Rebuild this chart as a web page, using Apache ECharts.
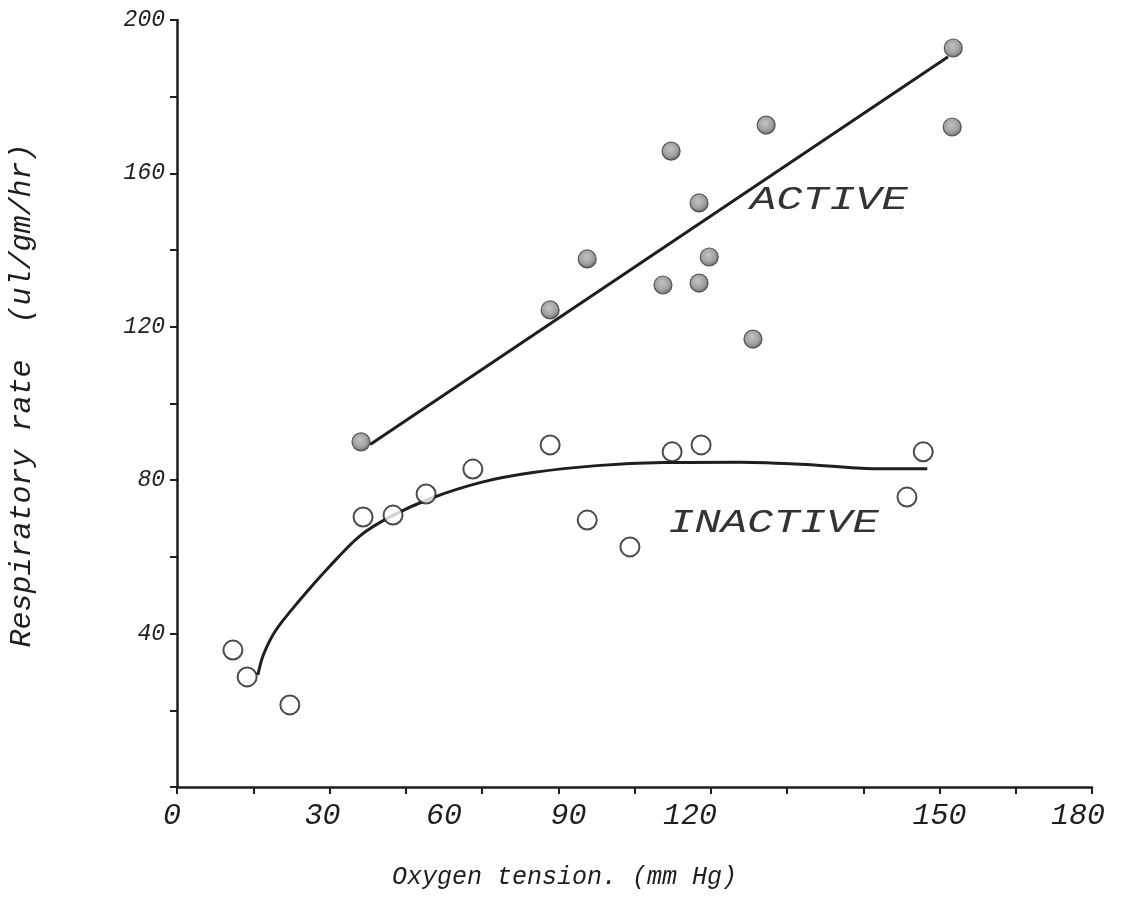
<!DOCTYPE html>
<html>
<head>
<meta charset="utf-8">
<script src="https://cdn.jsdelivr.net/npm/echarts@6/dist/echarts.min.js"></script>
<style>
  html, body { margin: 0; padding: 0; background: #ffffff; }
  #chart { width: 1126px; height: 916px; }
</style>
</head>
<body>
<div id="chart"></div>
<script>
// Respiratory rate vs oxygen tension, active and inactive tissue
const activeX = [36.2, 73.4, 80.7, 95.6, 97.2, 102.7, 102.7, 104.7, 113.3, 115.9, 152.7, 152.5];
const activeY = [90.0, 124.4, 137.7, 130.9, 165.8, 152.3, 131.4, 138.2, 116.8, 172.6, 192.7, 172.1];

const inactiveX = [11.0, 13.8, 22.2, 36.6, 42.5, 49.0, 58.2, 73.4, 80.7, 89.1, 97.4, 103.1, 143.6, 146.8];
const inactiveY = [35.7, 28.7, 21.4, 70.4, 70.9, 76.4, 82.9, 89.2, 69.6, 62.6, 87.4, 89.2, 75.6, 87.4];

// fitted trend for the active group (straight line)
const activeFitX = [38.0, 151.7];
const activeFitY = [89.3, 190.4];

// fitted trend for the inactive group (hand-drawn saturation curve)
const inactiveFitX = [15.9, 17.0, 19.5, 24.0, 30.0, 36.0, 42.0, 50.0, 60.0, 70.0, 82.6, 95.6, 110.8, 123.9, 136.9, 147.6];
const inactiveFitY = [29.2, 34.5, 41.0, 48.5, 57.5, 65.5, 70.5, 75.3, 79.5, 82.0, 83.8, 84.6, 84.7, 84.1, 83.0, 83.0];

const xTickLabels = [0, 30, 60, 90, 120, 150, 180];
const yTickLabels = [40, 80, 120, 160, 200];

// curve captions, anchored in data units
const captionNames = ['ACTIVE', 'INACTIVE'];
const captionX = [112.7, 96.6];
const captionY = [153.1, 68.8];

// typeset look: the printed tick numbers sit a little left of their ticks
const xLabelNudge = { 0: -5, 30: -7, 60: -38, 90: -66, 120: -97, 150: 0, 180: -14 };

const ink = '#1e1e1e';
const mono = '"Liberation Mono", "DejaVu Sans Mono", monospace';

const zip = (xs, ys) => xs.map((x, i) => [x, ys[i]]);

const xRich = {};
xTickLabels.forEach(v => {
  const d = xLabelNudge[v] || 0;
  xRich['t' + v] = {
    fontFamily: mono, fontStyle: 'italic', fontSize: 30, color: ink,
    padding: d < 0 ? [0, -2 * d, 0, 0] : [0, 0, 0, 2 * d]
  };
});

const chart = echarts.init(document.getElementById('chart'), null, { renderer: 'canvas' });

const option = {
  backgroundColor: '#ffffff',
  animation: false,
  grid: { left: 177, right: 34, top: 20, bottom: 129, containLabel: false, outerBoundsMode: 'none' },
  xAxis: {
    type: 'value', min: 0, max: 180, interval: 15,
    name: 'Oxygen tension. (mm Hg)',
    nameLocation: 'middle', nameGap: 78,
    nameTextStyle: { fontFamily: mono, fontStyle: 'italic', fontSize: 25, color: ink, padding: [0, 140, 0, 0] },
    axisLine: { show: true, lineStyle: { color: ink, width: 2.5 } },
    axisTick: { show: true, inside: false, length: 7, lineStyle: { color: ink, width: 2 } },
    splitLine: { show: false },
    axisLabel: {
      margin: 14, showMinLabel: true, showMaxLabel: true,
      formatter: v => xTickLabels.includes(v) ? '{t' + v + '|' + v + '}' : '',
      rich: xRich
    }
  },
  yAxis: {
    type: 'value', min: 0, max: 200, interval: 20,
    name: 'Respiratory rate  (ul/gm/hr)',
    nameLocation: 'middle', nameGap: 140, nameRotate: 90,
    nameTextStyle: { fontFamily: mono, fontStyle: 'italic', fontSize: 30, color: ink, padding: [0, 0, 0, 16] },
    axisLine: { show: true, lineStyle: { color: ink, width: 2.5 } },
    axisTick: { show: true, inside: false, length: 7, lineStyle: { color: ink, width: 2 } },
    splitLine: { show: false },
    axisLabel: {
      margin: 12, fontFamily: mono, fontStyle: 'italic', fontSize: 23, color: ink,
      formatter: v => yTickLabels.includes(v) ? String(v) : ''
    }
  },
  series: [
    {
      name: 'active fit', type: 'line', data: zip(activeFitX, activeFitY),
      showSymbol: false, silent: true,
      lineStyle: { color: ink, width: 3 }, z: 2
    },
    {
      name: 'inactive fit', type: 'line', data: zip(inactiveFitX, inactiveFitY),
      smooth: 0.3, showSymbol: false, silent: true,
      lineStyle: { color: ink, width: 3 }, z: 2
    },
    {
      name: 'ACTIVE', type: 'scatter', data: zip(activeX, activeY),
      symbol: 'circle', symbolSize: 18, z: 4,
      itemStyle: {
        color: {
          type: 'radial', x: 0.45, y: 0.4, r: 0.6,
          colorStops: [
            { offset: 0, color: '#b4b4b4' },
            { offset: 0.6, color: '#8a8a8a' },
            { offset: 1, color: '#4a4a4a' }
          ]
        },
        borderColor: '#3a3a3a', borderWidth: 1.2
      }
    },
    {
      name: 'INACTIVE', type: 'scatter', data: zip(inactiveX, inactiveY),
      symbol: 'circle', symbolSize: 19, z: 4,
      itemStyle: { color: '#ffffff', borderColor: ink, borderWidth: 2 }
    }
  ]
};

chart.setOption(option);

// place the curve captions through the chart's own coordinate system
const captions = captionNames.map((txt, i) => {
  const p = chart.convertToPixel({ gridIndex: 0 }, [captionX[i], captionY[i]]);
  return {
    type: 'text', x: p[0], y: p[1], scaleX: 1.33, z: 10,
    style: {
      text: txt, fontFamily: mono, fontStyle: 'italic', fontSize: 33,
      fill: '#333333', align: 'left', verticalAlign: 'middle'
    }
  };
});
chart.setOption({ graphic: captions });
</script>
</body>
</html>
